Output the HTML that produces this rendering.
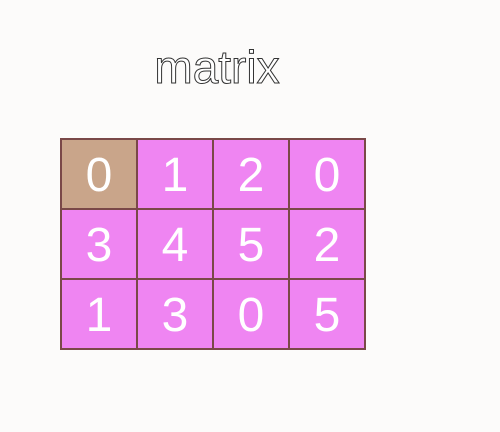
<!DOCTYPE html>
<html><head><meta charset="utf-8"><style>
body{margin:0;width:500px;height:432px;background:#fcfbfa;overflow:hidden;font-family:"Liberation Sans",sans-serif;position:relative}
#title{position:absolute;left:117px;width:200px;top:40px;text-align:center;font-size:46px;color:#fff;-webkit-text-stroke:1px #333;line-height:54px}
svg{position:absolute;left:0;top:0}
</style></head><body>
<div id="title">matrix</div>
<svg id="chart" width="500" height="432"></svg>
<script>
const matrixValues=[[0,1,2,0],[3,4,5,2],[1,3,0,5]];
const highlightCell=[0,0];
const ns="http://www.w3.org/2000/svg";
const svg=document.getElementById('chart');
const x0=61,y0=139,cw=76,ch=70;
matrixValues.forEach((row,r)=>row.forEach((v,c)=>{
  const rect=document.createElementNS(ns,'rect');
  
  
  rect.setAttribute('x',x0+c*cw);rect.setAttribute('y',y0+r*ch);
  rect.setAttribute('width',cw);rect.setAttribute('height',ch);
  const hl=r===highlightCell[0]&&c===highlightCell[1];
  rect.setAttribute('fill',hl?'#c9a58a':'#ef85f2');
  rect.setAttribute('stroke','#7a4848');rect.setAttribute('stroke-width','2');
  svg.appendChild(rect);
  const t=document.createElementNS(ns,'text');
  
  
  t.setAttribute('x',x0+c*cw+cw/2);t.setAttribute('y',y0+r*ch+ch/2+17);
  t.setAttribute('text-anchor','middle');t.setAttribute('font-size','48');
  t.setAttribute('fill','#fff');t.setAttribute('font-family','Liberation Sans, sans-serif');
  t.textContent=v;svg.appendChild(t);
}));
</script>
</body></html>
